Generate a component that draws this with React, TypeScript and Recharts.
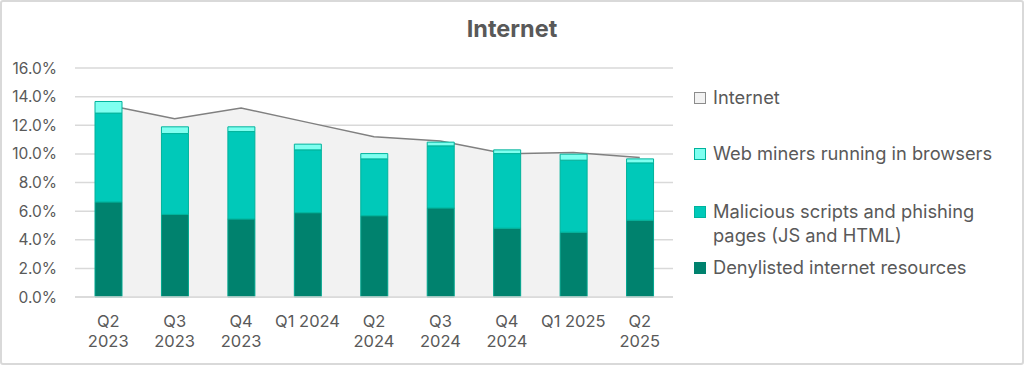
import { ComposedChart, Bar, Area, XAxis, YAxis, CartesianGrid } from 'recharts';

const quarters = ['Q2 2023', 'Q3 2023', 'Q4 2023', 'Q1 2024', 'Q2 2024', 'Q3 2024', 'Q4 2024', 'Q1 2025', 'Q2 2025'];
const tickLines = [
  ['Q2', '2023'],
  ['Q3', '2023'],
  ['Q4', '2023'],
  ['Q1 2024'],
  ['Q2', '2024'],
  ['Q3', '2024'],
  ['Q4', '2024'],
  ['Q1 2025'],
  ['Q2', '2025'],
];
const internet = [13.4, 12.45, 13.2, 12.2, 11.2, 10.9, 10.0, 10.1, 9.75];
const denylisted = [6.64, 5.77, 5.45, 5.89, 5.68, 6.22, 4.81, 4.53, 5.37];
const malicious = [6.21, 5.65, 6.11, 4.39, 3.97, 4.34, 5.21, 5.03, 4.0];
const miners = [0.81, 0.47, 0.33, 0.4, 0.37, 0.26, 0.26, 0.42, 0.28];
const yTicks = [0, 2, 4, 6, 8, 10, 12, 14, 16];

const data = quarters.map((q, i) => ({
  quarter: q,
  internet: internet[i],
  denylisted: denylisted[i],
  malicious: malicious[i],
  miners: miners[i],
}));

const FONT = 'Inter, "Noto Sans", sans-serif';
const TEXT = '#595959';

const legendItems = [
  { label: ['Internet'], fill: '#F2F2F2', stroke: '#8C8C8C', top: 85 },
  { label: ['Web miners running in browsers'], fill: '#7FFFF0', stroke: '#00B39C', top: 141 },
  { label: ['Malicious scripts and phishing', 'pages (JS and HTML)'], fill: '#00C9B9', stroke: '#00B39C', top: 199 },
  { label: ['Denylisted internet resources'], fill: '#00826E', stroke: '#00826E', top: 255 },
];

const QuarterTick = (props: any) => {
  const { x, y, index } = props;
  const lines = tickLines[index] ?? [];
  return (
    <g transform={`translate(${x},${y})`}>
      {lines.map((t: string, k: number) => (
        <text key={k} x={0} y={22 + k * 20} textAnchor="middle" fill={TEXT} fontSize={16.5} fontFamily={FONT}>
          {t}
        </text>
      ))}
    </g>
  );
};

export default function App() {
  return (
    <div style={{ position: 'absolute', left: 0, top: 0, width: 1024, height: 365, background: '#fff', fontFamily: FONT }}>
      <ComposedChart
        width={1024}
        height={365}
        data={data}
        margin={{ top: 68, right: 351, bottom: 18, left: 15 }}
        barSize={27}
      >
        <text x={512} y={37} textAnchor="middle" fill={TEXT} fontSize={23.5} fontWeight={700} fontFamily={FONT}>
          Internet
        </text>
        <CartesianGrid vertical={false} stroke="#D9D9D9" strokeWidth={1.5} />
        <XAxis
          dataKey="quarter"
          interval={0}
          tick={<QuarterTick />}
          tickLine={false}
          axisLine={{ stroke: '#D9D9D9', strokeWidth: 1.5 }}
          height={50}
        />
        <YAxis
          domain={[0, 16]}
          ticks={yTicks}
          width={60}
          tickFormatter={(v: number) => `${v.toFixed(1)}%`}
          tick={{ fill: TEXT, fontSize: 15.5, fontFamily: FONT }}
          axisLine={false}
          tickLine={false}
          tickMargin={12}
        />
        <Area
          type="linear"
          dataKey="internet"
          fill="#F2F2F2"
          fillOpacity={1}
          stroke="#808080"
          strokeWidth={1.5}
          isAnimationActive={false}
        />
        <Bar dataKey="denylisted" stackId="s" fill="#00826E" stroke="#00A58E" strokeWidth={1} isAnimationActive={false} />
        <Bar dataKey="malicious" stackId="s" fill="#00C9B9" stroke="#00B39C" strokeWidth={1} isAnimationActive={false} />
        <Bar dataKey="miners" stackId="s" fill="#7FFFF0" stroke="#00B39C" strokeWidth={1} isAnimationActive={false} />
      </ComposedChart>
      {legendItems.map((it) => (
        <div key={it.label[0]} style={{ position: 'absolute', left: 694, top: it.top, display: 'flex', alignItems: 'flex-start' }}>
          <div
            style={{
              width: 10,
              height: 10,
              marginTop: 7,
              background: it.fill,
              border: `1px solid ${it.stroke}`,
              marginRight: 7,
              flexShrink: 0,
            }}
          />
          <div style={{ color: TEXT, fontSize: 18.3, lineHeight: '24px', whiteSpace: 'nowrap' }}>
            {it.label.map((l) => (
              <div key={l}>{l}</div>
            ))}
          </div>
        </div>
      ))}
      <div
        style={{
          position: 'absolute',
          left: 0,
          top: 0,
          width: 1024,
          height: 365,
          boxSizing: 'border-box',
          border: '2px solid #D9D9D9',
          borderRadius: 3,
          pointerEvents: 'none',
        }}
      />
    </div>
  );
}
